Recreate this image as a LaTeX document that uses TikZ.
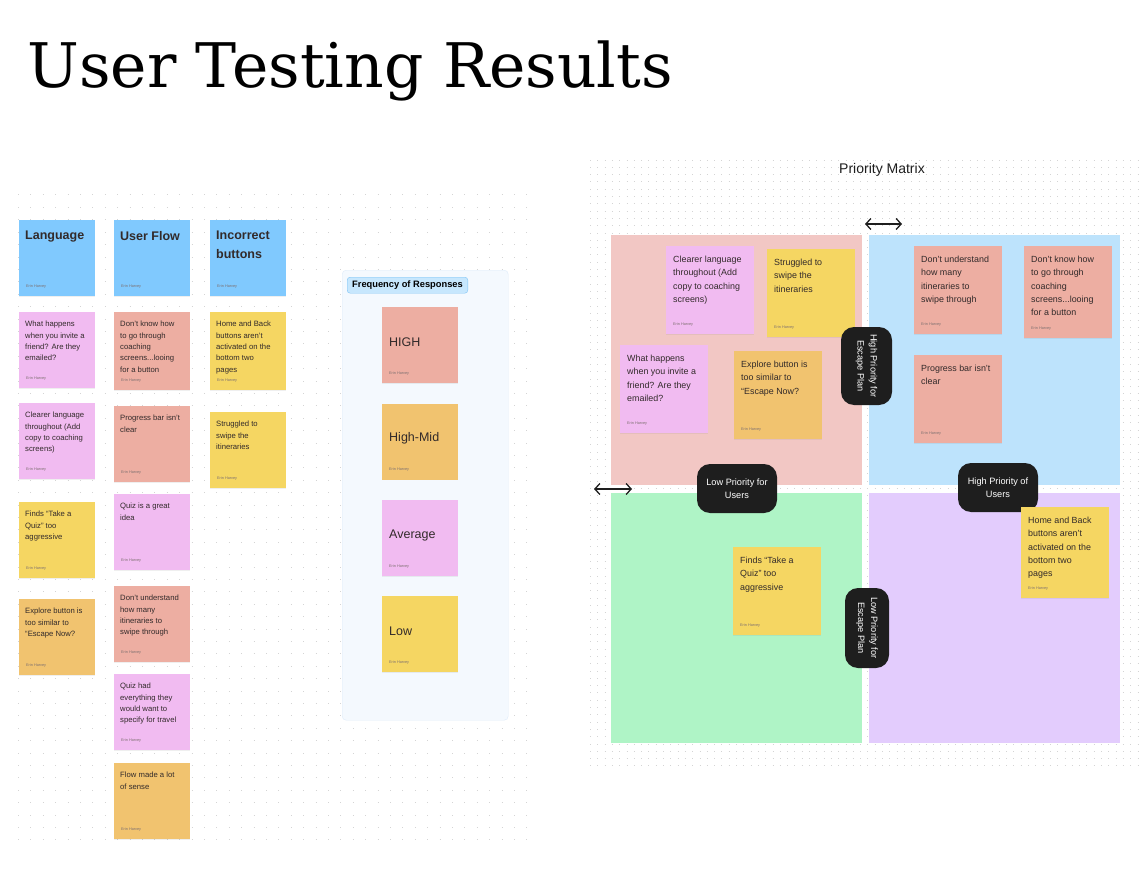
\documentclass[tikz,border=0pt]{standalone}
\usepackage{fontspec}
\setmainfont{Liberation Sans}
\newfontfamily\titlefont{DejaVu Serif}
\usepackage{tikz}
\usetikzlibrary{arrows.meta,positioning,shadows}
\definecolor{headblue}{RGB}{128,201,254}
\definecolor{notepink}{RGB}{241,187,241}
\definecolor{notesalmon}{RGB}{237,174,162}
\definecolor{noteyellow}{RGB}{245,214,98}
\definecolor{noteorange}{RGB}{241,195,111}
\definecolor{quadpink}{RGB}{242,199,196}
\definecolor{quadblue}{RGB}{189,227,252}
\definecolor{quadgreen}{RGB}{175,244,198}
\definecolor{quadpurple}{RGB}{227,204,253}
\definecolor{panelbg}{RGB}{244,249,254}
\definecolor{panelline}{RGB}{222,236,250}
\definecolor{tagbg}{RGB}{199,231,253}
\definecolor{tagline}{RGB}{125,195,245}
\definecolor{badgeblack}{RGB}{30,30,30}
\definecolor{inkdark}{RGB}{50,42,42}
\definecolor{signgray}{RGB}{125,112,112}
\definecolor{dotgray}{RGB}{212,212,212}
\tikzset{
  note/.style={
    fill=#1,
    anchor=north west,
    inner sep=0pt,
    minimum width=76pt,
    minimum height=76pt,
    drop shadow={shadow xshift=0pt, shadow yshift=-0.8pt, opacity=0.12},
    label={[sign]south west:Erin Harvey}
  },
  bignote/.style={note=#1, minimum width=88pt, minimum height=88pt},
  sign/.style={
    anchor=south west,
    inner sep=0pt,
    xshift=7pt,
    yshift=8pt,
    font=\fontsize{3.8}{4}\selectfont,
    text=signgray
  },
  basetxt/.style={anchor=north west, inner sep=0pt, align=left, text=inkdark},
  txt/.style={basetxt, xshift=6pt, yshift=-9pt, font=\fontsize{7.7}{11.4}\selectfont},
  bigtxt/.style={basetxt, xshift=7pt, yshift=-10pt, font=\fontsize{8.9}{13.2}\selectfont},
  headtxt/.style={basetxt, xshift=6pt, yshift=-11pt, font=\bfseries\fontsize{12.5}{18.3}\selectfont},
  freqtxt/.style={basetxt, anchor=west, xshift=7pt, yshift=3pt, font=\fontsize{12.5}{14}\selectfont},
  quad/.style={fill=#1, anchor=north west, inner sep=0pt, minimum width=251pt, minimum height=250pt},
  badge/.style={
    fill=badgeblack,
    rounded corners=13pt,
    text=white,
    align=center,
    font=\fontsize{9.2}{13}\selectfont,
    minimum width=80pt,
    minimum height=49pt
  },
  twoway/.style={{Straight Barb[length=5pt,width=11pt]}-{Straight Barb[length=5pt,width=11pt]}, line width=1.3pt, draw=badgeblack},
  dotrow/.style={draw=dotgray, line width=1pt, dash pattern=on 1pt off 11.4pt},
  finedots/.style={draw=dotgray, line width=0.9pt, dash pattern=on 0.9pt off 6.4pt}
}

\begin{document}
\begin{tikzpicture}[x=1pt,y=-1pt]
  \useasboundingbox[fill=white] (0,0) rectangle (1144,872);
  \node[anchor=base west, inner sep=0pt, font=\titlefont\fontsize{61.5}{70}\selectfont] (title) at (27,88) {User Testing Results};

  % dot grids behind the two boards
  \foreach \y in {195,207.4,...,840} \draw[dotrow] (18,\y) -- (530,\y);
  \foreach \y in {160,167.3,...,766} \draw[finedots] (590,\y) -- (1144,\y);

  % affinity columns
  \node[note=headblue, label={[headtxt]north west:Language}] (lang) at (19,220) {};
  \node[note=headblue, label={[headtxt]north west:User Flow}] (flow) at (114,220) {};
  \node[note=headblue, label={[headtxt]north west:{Incorrect\\buttons}}] (btns) at (210,220) {};

  \node[note=notepink, label={[txt]north west:{What happens\\when you invite a\\friend? Are they\\emailed?}}] (lang1) at (19,312) {};
  \node[note=notepink, label={[txt]north west:{Clearer language\\throughout (Add\\copy to coaching\\screens)}}] (lang2) at (19,403) {};
  \node[note=noteyellow, label={[txt]north west:{Finds “Take a\\Quiz” too\\aggressive}}] (lang3) at (19,502) {};
  \node[note=noteorange, label={[txt]north west:{Explore button is\\too similar to\\“Escape Now?}}] (lang4) at (19,599) {};

  \node[note=notesalmon, minimum height=78pt, label={[txt]north west:{Don’t know how\\to go through\\coaching\\screens...looing\\for a button}}] (flow1) at (114,312) {};
  \node[note=notesalmon, label={[txt]north west:{Progress bar isn’t\\clear}}] (flow2) at (114,406) {};
  \node[note=notepink, label={[txt]north west:{Quiz is a great\\idea}}] (flow3) at (114,494) {};
  \node[note=notesalmon, label={[txt]north west:{Don’t understand\\how many\\itineraries to\\swipe through}}] (flow4) at (114,586) {};
  \node[note=notepink, label={[txt]north west:{Quiz had\\everything they\\would want to\\specify for travel}}] (flow5) at (114,674) {};
  \node[note=noteorange, label={[txt]north west:{Flow made a lot\\of sense}}] (flow6) at (114,763) {};

  \node[note=noteyellow, minimum height=78pt, label={[txt]north west:{Home and Back\\buttons aren’t\\activated on the\\bottom two\\pages}}] (btns1) at (210,312) {};
  \node[note=noteyellow, label={[txt]north west:{Struggled to\\swipe the\\itineraries}}] (btns2) at (210,412) {};

  % frequency legend
  \node[fill=panelbg, draw=panelline, rounded corners=4pt, anchor=north west, minimum width=166pt, minimum height=450pt] (freq) at (342,270) {};
  \node[fill=tagbg, draw=tagline, rounded corners=3pt, anchor=north west, inner xsep=5pt, minimum height=16pt, font=\bfseries\fontsize{9.3}{10}\selectfont] (freqtag) at (347,277) {Frequency of Responses};
  \node[note=notesalmon, label={[freqtxt]west:HIGH}] (high) at (382,307) {};
  \node[note=noteorange, below=20pt of high, label={[freqtxt]west:High-Mid}] (highmid) {};
  \node[note=notepink, below=20pt of highmid, label={[freqtxt]west:Average}] (average) {};
  \node[note=noteyellow, below=20pt of average, label={[freqtxt]west:Low}] (low) {};

  % priority matrix
  \node[font=\fontsize{14}{16}\selectfont, text=badgeblack] (mtitle) at (882,170) {Priority Matrix};
  \node[quad=quadpink] (qhl) at (611,235) {};
  \node[quad=quadblue] (qhh) at (869,235) {};
  \node[quad=quadgreen] (qll) at (611,493) {};
  \node[quad=quadpurple] (qlh) at (869,493) {};

  \node[bignote=notepink, label={[bigtxt]north west:{Clearer language\\throughout (Add\\copy to coaching\\screens)}}] (m1) at (666,246) {};
  \node[bignote=noteyellow, label={[bigtxt]north west:{Struggled to\\swipe the\\itineraries}}] (m2) at (767,249) {};
  \node[bignote=notepink, label={[bigtxt]north west:{What happens\\when you invite a\\friend? Are they\\emailed?}}] (m3) at (620,345) {};
  \node[bignote=noteorange, label={[bigtxt]north west:{Explore button is\\too similar to\\“Escape Now?}}] (m4) at (734,351) {};
  \node[bignote=notesalmon, label={[bigtxt]north west:{Don’t understand\\how many\\itineraries to\\swipe through}}] (m5) at (914,246) {};
  \node[bignote=notesalmon, minimum height=92pt, label={[bigtxt]north west:{Don’t know how\\to go through\\coaching\\screens...looing\\for a button}}] (m6) at (1024,246) {};
  \node[bignote=notesalmon, label={[bigtxt]north west:{Progress bar isn’t\\clear}}] (m7) at (914,355) {};
  \node[bignote=noteyellow, label={[bigtxt]north west:{Finds “Take a\\Quiz” too\\aggressive}}] (m8) at (733,547) {};

  \node[badge] (lowusers) at (737,488.5) {Low Priority for\\Users};
  \node[badge] (highusers) at (998,487.5) {High Priority of\\Users};
  \node[badge, rotate=-90, minimum width=78pt, minimum height=51pt] (highescape) at (866.5,366) {High Priority for\\Escape Plan};
  \node[badge, rotate=-90, minimum width=80pt, minimum height=44pt] (lowescape) at (867,628) {Low Priority for\\Escape Plan};

  \node[bignote=noteyellow, minimum height=91pt, label={[bigtxt]north west:{Home and Back\\buttons aren’t\\activated on the\\bottom two\\pages}}] (m9) at (1021,507) {};

  \coordinate (ua) at (865,224);
  \coordinate (ub) at (902,224);
  \coordinate (va) at (594,489);
  \coordinate (vb) at (632,489);
  \draw[twoway] (ua) -- (ub);
  \draw[twoway] (va) -- (vb);
\end{tikzpicture}
\end{document}
